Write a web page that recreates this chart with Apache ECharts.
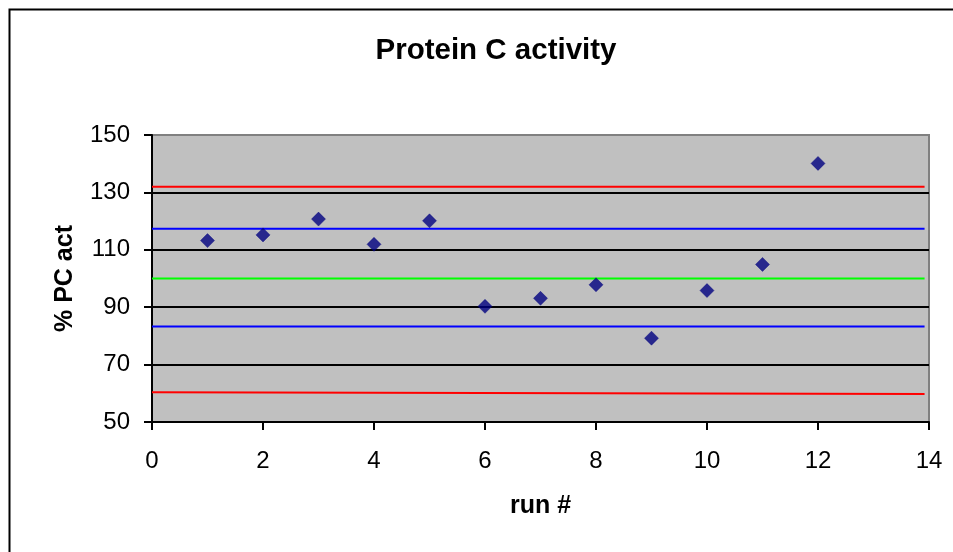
<!DOCTYPE html>
<html>
<head>
<meta charset="utf-8">
<script src="https://cdn.jsdelivr.net/npm/echarts@6/dist/echarts.min.js"></script>
<style>
html,body{margin:0;padding:0;background:#fff;}
#chart{width:953px;height:552px;}
</style>
</head>
<body>
<div id="chart"></div>
<script>
// Data
var runs = [1, 2, 3, 4, 5, 6, 7, 8, 9, 10, 11, 12];
var pcAct = [113.2, 115.2, 120.7, 111.9, 120.1, 90.3, 93.1, 97.8, 79.2, 95.8, 104.9, 140.1];
var refX = [0, 13.92];
var upperControl = [132, 132];
var upperWarning = [117.3, 117.3];
var targetMean = [100, 100];
var lowerWarning = [83.3, 83.3];
var lowerControl = [60.35, 59.75];
var xTicks = [0, 2, 4, 6, 8, 10, 12, 14];
var yTicks = [50, 70, 90, 110, 130, 150];

var FONT = '"Liberation Sans", Arial, sans-serif';

function pairs(xs, ys) {
  return xs.map(function (x, i) { return [x, ys[i]]; });
}
function refLine(name, ys, color) {
  return {
    name: name,
    type: 'line',
    data: pairs(refX, ys),
    symbol: 'none',
    silent: true,
    lineStyle: { color: color, width: 2 },
    z: 3
  };
}

var chart = echarts.init(document.getElementById('chart'), null, { renderer: 'canvas' });
chart.setOption({
  animation: false,
  backgroundColor: '#ffffff',
  title: {
    text: 'Protein C activity',
    left: 491,
    top: 31,
    textAlign: 'center',
    textStyle: { fontFamily: FONT, fontSize: 29.5, fontWeight: 'bold', color: '#000' }
  },
  graphic: [{
    type: 'rect',
    left: 7, top: 7,
    shape: { x: 0, y: 0, width: 1000, height: 600 },
    style: { fill: 'none', stroke: '#000', lineWidth: 2 },
    silent: true
  }],
  grid: {
    left: 152, right: 24, top: 135, bottom: 130,
    show: true,
    backgroundColor: '#C0C0C0',
    borderColor: '#808080',
    borderWidth: 2
  },
  xAxis: {
    type: 'value',
    min: xTicks[0], max: xTicks[xTicks.length - 1], interval: 2,
    name: 'run #',
    nameLocation: 'middle',
    nameGap: 72,
    nameTextStyle: { fontFamily: FONT, fontSize: 25, fontWeight: 'bold', color: '#000' },
    axisLine: { show: true, lineStyle: { color: '#000', width: 2 } },
    axisTick: { show: true, length: 8, inside: false, lineStyle: { color: '#000', width: 2 } },
    axisLabel: { margin: 27, fontFamily: FONT, fontSize: 24, color: '#000' },
    splitLine: { show: false }
  },
  yAxis: {
    type: 'value',
    min: yTicks[0], max: yTicks[yTicks.length - 1], interval: 20,
    name: '% PC act',
    nameLocation: 'middle',
    nameGap: 74,
    nameTextStyle: { fontFamily: FONT, fontSize: 25, fontWeight: 'bold', color: '#000' },
    axisLine: { show: true, onZero: false, lineStyle: { color: '#000', width: 2 } },
    axisTick: { show: true, length: 8, inside: false, lineStyle: { color: '#000', width: 2 } },
    axisLabel: { margin: 22, fontFamily: FONT, fontSize: 24, color: '#000' },
    splitLine: { show: true, lineStyle: { color: ['#000', '#000', '#000', '#000', '#000', '#808080'], width: 2 } }
  },
  series: [
    refLine('Upper control', upperControl, '#FF0000'),
    refLine('Upper warning', upperWarning, '#0000FF'),
    refLine('Target', targetMean, '#00FF00'),
    refLine('Lower warning', lowerWarning, '#0000FF'),
    refLine('Lower control', lowerControl, '#FF0000'),
    {
      name: '% PC act',
      type: 'scatter',
      data: pairs(runs, pcAct),
      symbol: 'diamond',
      symbolSize: 14,
      itemStyle: { color: '#000080', borderColor: '#000080', borderWidth: 0.5 },
      z: 5
    }
  ]
});
</script>
</body>
</html>
